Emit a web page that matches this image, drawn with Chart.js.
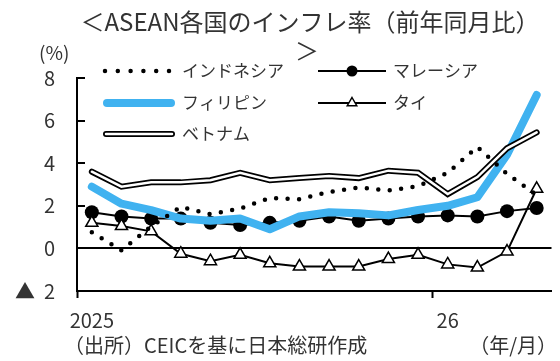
<!DOCTYPE html>
<html lang="ja">
<head>
<meta charset="utf-8">
<title>ASEAN各国のインフレ率</title>
<script src="https://cdn.jsdelivr.net/npm/chart.js@4.4.1/dist/chart.umd.min.js"></script>
<style>
  html, body { margin: 0; padding: 0; background: #fff; }
  #contenedor { width: 560px; height: 361px; }
</style>
</head>
<body>
<div id="contenedor"><canvas id="grafico" width="560" height="361"></canvas></div>
<script>
// datos mensuales, 2025/1 - 2026/4 (前年同月比, %)
const meses = ['2025/1', '2025/2', '2025/3', '2025/4', '2025/5', '2025/6', '2025/7', '2025/8',
               '2025/9', '2025/10', '2025/11', '2025/12', '2026/1', '2026/2', '2026/3', '2026/4'];
const etiquetasX = ['2025', '', '', '', '', '', '', '', '', '', '', '', '26', '', '', ''];

const indonesia = [0.76, -0.09, 1.03, 1.95, 1.6, 1.87, 2.37, 2.31, 2.65, 2.86, 2.72, 2.92, 3.55, 4.76, 3.5, 2.5];
const malasia   = [1.7, 1.5, 1.4, 1.4, 1.2, 1.1, 1.2, 1.3, 1.5, 1.3, 1.4, 1.5, 1.55, 1.5, 1.75, 1.9];
const filipinas = [2.9, 2.1, 1.8, 1.4, 1.3, 1.4, 0.9, 1.5, 1.7, 1.65, 1.55, 1.8, 2.0, 2.4, 4.4, 7.2];
const tailandia = [1.2, 1.05, 0.8, -0.25, -0.6, -0.3, -0.7, -0.85, -0.85, -0.85, -0.5, -0.3, -0.75, -0.9, -0.15, 2.8];
const vietnam   = [3.6, 2.9, 3.1, 3.1, 3.2, 3.55, 3.2, 3.3, 3.4, 3.3, 3.65, 3.55, 2.55, 3.35, 4.7, 5.45];

const paises = ['インドネシア', 'マレーシア', 'フィリピン', 'タイ', 'ベトナム'];
const titulo = ['＜ASEAN各国のインフレ率（前年同月比）', '＞'];
const unidad = '(%)';
const fuente = '（出所）CEICを基に日本総研作成';
const ejeX = '（年/月）';

const FUENTE = '"Noto Sans CJK JP", "Noto Sans", sans-serif';
const GRIS = '#333';
const AZUL = 'rgb(64, 178, 240)';

function triangulo(ctx, x, y, r) {
    ctx.beginPath();
    ctx.moveTo(x, y - r);
    ctx.lineTo(x + r * 0.866, y + r / 2);
    ctx.lineTo(x - r * 0.866, y + r / 2);
    ctx.closePath();
    ctx.fillStyle = '#fff';
    ctx.fill();
    ctx.stroke();
}

// leyenda en dos columnas dibujada a mano
const leyenda = {
    id: 'leyenda',
    afterDraw(chart) {
        const ctx = chart.ctx;
        ctx.save();

        // インドネシア
        ctx.strokeStyle = '#000';
        ctx.lineCap = 'round';
        ctx.lineWidth = 4.5;
        ctx.setLineDash([0, 12.8]);
        ctx.beginPath();
        ctx.moveTo(105, 71);
        ctx.lineTo(170, 71);
        ctx.stroke();
        ctx.setLineDash([]);

        // フィリピン
        ctx.strokeStyle = AZUL;
        ctx.lineWidth = 8;
        ctx.beginPath();
        ctx.moveTo(107, 103);
        ctx.lineTo(171, 103);
        ctx.stroke();

        // ベトナム
        ctx.strokeStyle = '#000';
        ctx.lineWidth = 6;
        ctx.beginPath();
        ctx.moveTo(106, 134);
        ctx.lineTo(172, 134);
        ctx.stroke();
        ctx.strokeStyle = '#fff';
        ctx.lineWidth = 2.5;
        ctx.stroke();

        // マレーシア
        ctx.lineCap = 'butt';
        ctx.strokeStyle = '#000';
        ctx.lineWidth = 2;
        ctx.beginPath();
        ctx.moveTo(318, 71);
        ctx.lineTo(386, 71);
        ctx.stroke();
        ctx.fillStyle = '#000';
        ctx.beginPath();
        ctx.arc(352, 71, 5.5, 0, Math.PI * 2);
        ctx.fill();

        // タイ
        ctx.beginPath();
        ctx.moveTo(318, 103);
        ctx.lineTo(386, 103);
        ctx.stroke();
        ctx.lineWidth = 1.5;
        triangulo(ctx, 352, 103, 5.5);

        ctx.fillStyle = GRIS;
        ctx.font = `17px ${FUENTE}`;
        ctx.textAlign = 'left';
        ctx.textBaseline = 'middle';
        ctx.fillText(paises[0], 182, 71);
        ctx.fillText(paises[2], 182, 103);
        ctx.fillText(paises[4], 182, 134);
        ctx.fillText(paises[1], 393, 71);
        ctx.fillText(paises[3], 393, 103);
        ctx.restore();
    }
};

// título, unidad y fuente
const textos = {
    id: 'textos',
    afterDraw(chart) {
        const ctx = chart.ctx;
        ctx.save();
        ctx.fillStyle = GRIS;
        ctx.textBaseline = 'middle';
        ctx.textAlign = 'center';
        ctx.font = `24px ${FUENTE}`;
        ctx.fillText(titulo[0], 310, 22);
        ctx.fillText(titulo[1], 307, 51);
        ctx.textAlign = 'left';
        ctx.font = `19px ${FUENTE}`;
        ctx.fillText(unidad, 39, 53);
        ctx.font = `20px ${FUENTE}`;
        ctx.fillText(fuente, 64, 345);
        ctx.textAlign = 'right';
        ctx.fillText(ejeX, 557, 345);
        ctx.restore();
    }
};

const serieLinea = (label, data, color, ancho) => ({
    label: label,
    data: data,
    borderColor: color,
    borderWidth: ancho,
    pointRadius: 0,
    fill: false
});

// el primero de la lista queda encima
const datasets = [
    Object.assign(serieLinea(paises[0], indonesia, '#000', 4.5), {
        borderDash: [0, 11.5],
        borderCapStyle: 'round'
    }),
    Object.assign(serieLinea(paises[4], vietnam, '#fff', 2.5), {
        borderCapStyle: 'round',
        borderJoinStyle: 'miter'
    }),
    Object.assign(serieLinea(paises[4], vietnam, '#000', 6), {
        borderCapStyle: 'round',
        borderJoinStyle: 'miter'
    }),
    Object.assign(serieLinea(paises[2], filipinas, AZUL, 8), {
        borderCapStyle: 'round',
        borderJoinStyle: 'round'
    }),
    Object.assign(serieLinea(paises[3], tailandia, '#000', 2), {
        pointStyle: 'triangle',
        pointRadius: 7,
        pointBackgroundColor: '#fff',
        pointBorderColor: '#000',
        pointBorderWidth: 1.5
    }),
    Object.assign(serieLinea(paises[1], malasia, '#000', 2), {
        pointStyle: 'circle',
        pointRadius: 7,
        pointBackgroundColor: '#000',
        pointBorderColor: '#000',
        pointBorderWidth: 0
    })
];

new Chart(document.getElementById('grafico'), {
    type: 'line',
    data: { labels: meses, datasets: datasets },
    options: {
        responsive: false,
        animation: false,
        layout: { padding: { top: 78, right: 5, left: 0, bottom: 0 } },
        elements: { line: { tension: 0 } },
        plugins: {
            legend: { display: false },
            title: { display: false },
            tooltip: { enabled: false }
        },
        scales: {
            x: {
                offset: true,
                grid: {
                    offset: true,
                    drawOnChartArea: false,
                    tickLength: 7,
                    tickWidth: 2,
                    tickColor: c => (c.index === 0 || c.index === 12) ? '#000' : 'rgba(0,0,0,0)'
                },
                border: { color: '#000', width: 2 },
                ticks: {
                    autoSkip: false,
                    maxRotation: 0,
                    padding: 10,
                    color: GRIS,
                    font: { family: FUENTE, size: 20 },
                    callback: (v, i) => etiquetasX[i]
                },
                afterFit: s => { s.height = 70; }
            },
            y: {
                min: -2,
                max: 8,
                grid: {
                    tickLength: -8,
                    tickWidth: 2,
                    tickColor: '#000',
                    lineWidth: 2,
                    color: c => (c.tick && c.tick.value === 0) ? '#000' : 'rgba(0,0,0,0)'
                },
                border: { color: '#000', width: 2 },
                ticks: {
                    stepSize: 2,
                    padding: 30,
                    color: GRIS,
                    font: { family: FUENTE, size: 20 },
                    callback: v => v < 0 ? '▲  ' + Math.abs(v) : v
                },
                afterFit: s => { s.width = 77; }
            }
        }
    },
    plugins: [textos, leyenda]
});
</script>
</body>
</html>
